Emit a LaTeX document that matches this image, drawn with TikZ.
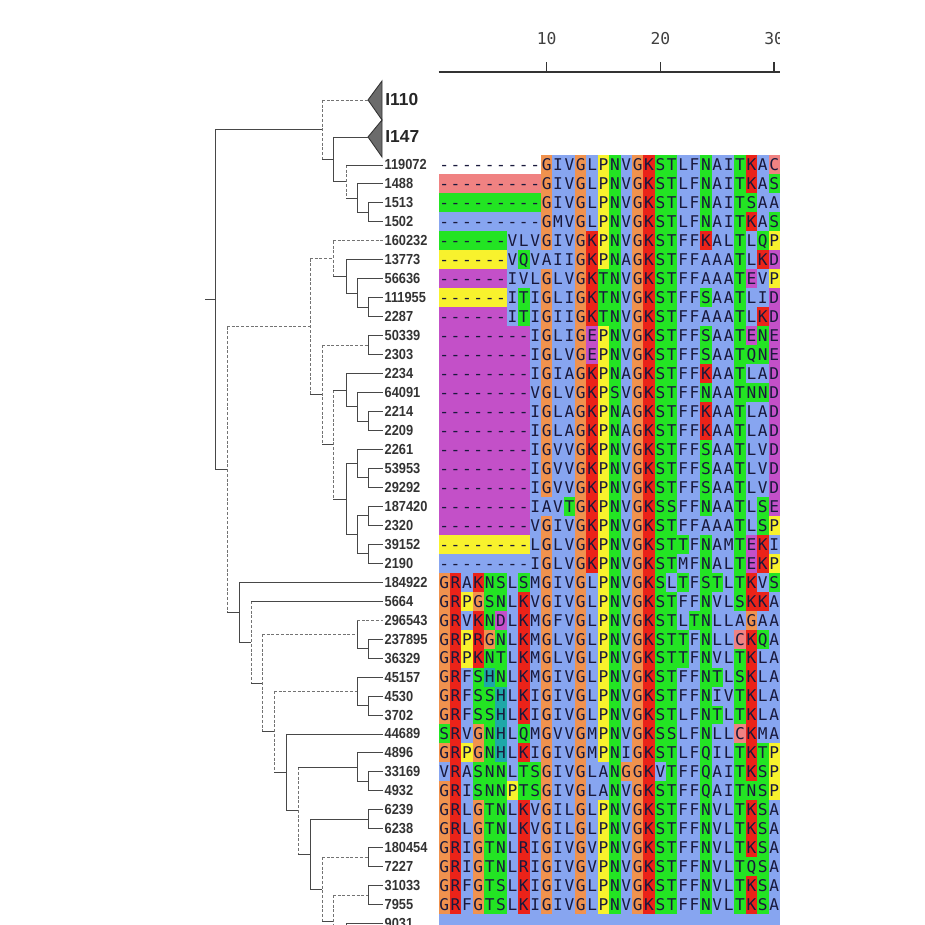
\documentclass[tikz,border=0pt]{standalone}
\usepackage{fontspec}
\setmainfont{Liberation Sans}
\newfontfamily\leaffont[FakeStretch=0.88]{Liberation Sans}
\newfontfamily\alnfont{DejaVu Sans Mono}

\definecolor{alnblue}{RGB}{135,165,240}
\definecolor{alnred}{RGB}{235,35,25}
\definecolor{alngreen}{RGB}{35,228,35}
\definecolor{alnorange}{RGB}{240,146,78}
\definecolor{alnyellow}{RGB}{248,242,45}
\definecolor{alnmagenta}{RGB}{195,80,200}
\definecolor{alnpink}{RGB}{240,130,130}
\definecolor{alncyan}{RGB}{30,168,168}
\definecolor{alntext}{RGB}{25,25,60}
\colorlet{resA}{alnblue}\colorlet{resI}{alnblue}\colorlet{resL}{alnblue}
\colorlet{resM}{alnblue}\colorlet{resF}{alnblue}\colorlet{resV}{alnblue}
\colorlet{resW}{alnblue}\colorlet{resG}{alnorange}\colorlet{resP}{alnyellow}
\colorlet{resK}{alnred}\colorlet{resR}{alnred}\colorlet{resN}{alngreen}
\colorlet{resS}{alngreen}\colorlet{resT}{alngreen}\colorlet{resQ}{alngreen}
\colorlet{resE}{alnmagenta}\colorlet{resD}{alnmagenta}\colorlet{resH}{alncyan}
\colorlet{resY}{alncyan}\colorlet{resC}{alnpink}

\newcount\colk
\newif\ifalntext
% one alignment row: row, gap colour, residues
\newcommand{\alnrow}[3]{\def\alni{#1}\def\gapcol{#2}\colk=0\relax\alnstep#3\relax}
\def\alnstep#1{\ifx#1\relax\else\alncell{#1}\expandafter\alnstep\fi}
\newcommand{\alncell}[1]{%
  \advance\colk by 1
  \ifalntext
    \node[res] at ({438.5+(\the\colk-0.5)*11.38}, \alni) {#1};
  \else
    \ifx#1-\def\cellcol{\gapcol}\else\def\cellcol{res#1}\fi
    \fill[\cellcol] ({438.5+(\the\colk-1)*11.38}, \alni-0.5) rectangle ++(11.5, 1.03);
  \fi}
\newcommand{\alndata}{%
\alnrow{0}{white}{---------GIVGLPNVGKSTLFNAITKAC}
\alnrow{1}{alnpink}{---------GIVGLPNVGKSTLFNAITKAS}
\alnrow{2}{alngreen}{---------GIVGLPNVGKSTLFNAITSAA}
\alnrow{3}{alnblue}{---------GMVGLPNVGKSTLFNAITKAS}
\alnrow{4}{alngreen}{------VLVGIVGKPNVGKSTFFKALTLQP}
\alnrow{5}{alnyellow}{------VQVAIIGKPNAGKSTFFAAATLKD}
\alnrow{6}{alnmagenta}{------IVLGLVGKTNVGKSTFFAAATEVP}
\alnrow{7}{alnyellow}{------ITIGLIGKTNVGKSTFFSAATLID}
\alnrow{8}{alnmagenta}{------ITIGIIGKTNVGKSTFFAAATLKD}
\alnrow{9}{alnmagenta}{--------IGLIGEPNVGKSTFFSAATENE}
\alnrow{10}{alnmagenta}{--------IGLVGEPNVGKSTFFSAATQNE}
\alnrow{11}{alnmagenta}{--------IGIAGKPNAGKSTFFKAATLAD}
\alnrow{12}{alnmagenta}{--------VGLVGKPSVGKSTFFNAATNND}
\alnrow{13}{alnmagenta}{--------IGLAGKPNAGKSTFFKAATLAD}
\alnrow{14}{alnmagenta}{--------IGLAGKPNAGKSTFFKAATLAD}
\alnrow{15}{alnmagenta}{--------IGVVGKPNVGKSTFFSAATLVD}
\alnrow{16}{alnmagenta}{--------IGVVGKPNVGKSTFFSAATLVD}
\alnrow{17}{alnmagenta}{--------IGVVGKPNVGKSTFFSAATLVD}
\alnrow{18}{alnmagenta}{--------IAVTGKPNVGKSSFFNAATLSE}
\alnrow{19}{alnmagenta}{--------VGIVGKPNVGKSTFFAAATLSP}
\alnrow{20}{alnyellow}{--------LGLVGKPNVGKSTTFNAMTEKI}
\alnrow{21}{alnblue}{--------IGLVGKPNVGKSTMFNALTEKP}
\alnrow{22}{white}{GRAKNSLSMGIVGLPNVGKSLTFSTLTKVS}
\alnrow{23}{white}{GRPGSNLKVGIVGLPNVGKSTFFNVLSKKA}
\alnrow{24}{white}{GRVKNDLKMGFVGLPNVGKSTLTNLLAGAA}
\alnrow{25}{white}{GRPRGNLKMGLVGLPNVGKSTTFNLLCKQA}
\alnrow{26}{white}{GRPKNTLKMGLVGLPNVGKSTTFNVLTKLA}
\alnrow{27}{white}{GRFSHNLKMGIVGLPNVGKSTFFNTLSKLA}
\alnrow{28}{white}{GRFSSHLKIGIVGLPNVGKSTFFNIVTKLA}
\alnrow{29}{white}{GRFSSHLKIGIVGLPNVGKSTLFNTLTKLA}
\alnrow{30}{white}{SRVGNHLQMGVVGMPNVGKSSLFNLLCKMA}
\alnrow{31}{white}{GRPGNHLKIGIVGMPNIGKSTLFQILTKTP}
\alnrow{32}{white}{VRASNNLTSGIVGLANGGKVTFFQAITKSP}
\alnrow{33}{white}{GRISNNPTSGIVGLANVGKSTFFQAITNSP}
\alnrow{34}{white}{GRLGTNLKVGILGLPNVGKSTFFNVLTKSA}
\alnrow{35}{white}{GRLGTNLKVGILGLPNVGKSTFFNVLTKSA}
\alnrow{36}{white}{GRIGTNLRIGIVGVPNVGKSTFFNVLTKSA}
\alnrow{37}{white}{GRIGTNLRIGIVGVPNVGKSTFFNVLTQSA}
\alnrow{38}{white}{GRFGTSLKIGIVGLPNVGKSTFFNVLTKSA}
\alnrow{39}{white}{GRFGTSLKIGIVGLPNVGKSTFFNVLTKSA}}

% node, upper child, lower child, styles of vertical / upper / lower branch
\newcommand{\clade}[6]{%
  \draw[#4] (#1 |- #2) -- (#1 |- #3);
  \draw[#5] (#1 |- #2) -- (#2);
  \draw[#6] (#1 |- #3) -- (#3);}

\tikzset{
  brs/.style={draw=black!72, line width=0.5pt},
  brd/.style={draw=black!55, line width=0.5pt, dash pattern=on 1.7pt off 1pt},
  leaf/.style={anchor=west, inner xsep=1pt, inner ysep=0pt,
    font=\leaffont\bfseries\fontsize{8.3}{9}\selectfont, text=black!80},
  clab/.style={anchor=west, inner sep=0pt,
    font=\bfseries\fontsize{9.9}{11}\selectfont, text=black!85},
  tri/.style={fill=black!58, draw=black!80, line width=0.5pt},
  res/.style={inner sep=0pt, text height=6.7pt, text depth=0pt,
    font=\alnfont\fontsize{9.2}{10}\selectfont, text=alntext},
  ruler/.style={draw=black!80, line width=0.85pt},
  rlab/.style={inner sep=0pt, font=\alnfont\fontsize{9.3}{10}\selectfont, text=black!75},
}

\begin{document}
\begin{tikzpicture}[x=0.02cm, y=-0.3794cm]
\useasboundingbox (0,-8.698) rectangle (925,40.063);
\clip (0,-8.698) rectangle (925,40.063);

% leaves
\foreach \lbl [count=\i from 0] in {119072,1488,1513,1502,160232,13773,56636,111955,2287,
  50339,2303,2234,64091,2214,2209,2261,53953,29292,187420,2320,39152,2190,184922,5664,
  296543,237895,36329,45157,4530,3702,44689,4896,33169,4932,6239,6238,180454,7227,31033,
  7955,9031}
  \node[leaf] (l\lbl) at (382.5,\i) {\lbl};

% collapsed groups
\coordinate (i110) at (368,-3.426);
\coordinate (i147) at (368,-1.476);
\filldraw[tri] (i110) -- (382,-4.428) -- (382,-2.372) -- cycle;
\filldraw[tri] (i147) -- (382,-2.372) -- (382,-0.422) -- cycle;
\node[clab] (ni110) at (385,-3.426) {I110};
\node[clab] (ni147) at (385,-1.476) {I147};

% inner nodes
\coordinate (stub) at (205,7.10);
\coordinate (root) at (215,7.10);
\coordinate (t1) at (322,-1.863);
\coordinate (t2) at (333,-0.30);
\coordinate (t3) at (346,0.875);
\coordinate (t4) at (357,1.75);
\coordinate (t5) at (368,2.5);
\coordinate (u1) at (227,16.06);
\coordinate (u2) at (310,8.53);
\coordinate (u3) at (333,4.94);
\coordinate (u4) at (346,5.875);
\coordinate (u5) at (357,6.75);
\coordinate (u6) at (368,7.5);
\coordinate (v1) at (322,12.125);
\coordinate (v2) at (368,9.5);
\coordinate (v3) at (333,14.75);
\coordinate (v4) at (346,11.875);
\coordinate (v5) at (357,12.75);
\coordinate (v6) at (368,13.5);
\coordinate (v7) at (346,17.625);
\coordinate (v8) at (357,15.75);
\coordinate (v9) at (368,16.5);
\coordinate (v10) at (357,19.5);
\coordinate (v11) at (368,18.5);
\coordinate (v12) at (368,20.5);
\coordinate (w1) at (239,23.58);
\coordinate (w2) at (251,25.16);
\coordinate (w3) at (262,27.32);
\coordinate (w4) at (357,24.75);
\coordinate (w5) at (368,25.5);
\coordinate (w6) at (274,29.89);
\coordinate (w7) at (357,27.75);
\coordinate (w8) at (368,28.5);
\coordinate (w9) at (286,32.02);
\coordinate (w10) at (298,34.05);
\coordinate (w11) at (357,31.75);
\coordinate (w12) at (368,32.5);
\coordinate (w13) at (310,36.34);
\coordinate (w14) at (368,34.5);
\coordinate (w15) at (322,38.19);
\coordinate (w16) at (368,36.5);
\coordinate (w17) at (333,39.875);
\coordinate (w18) at (368,38.5);
\coordinate (w19) at (346,41.25);
\coordinate (wx) at (382.5,42.5);

\draw[brs] (stub) -- (root);
\clade{root}{t1}{u1}{brs}{brs}{brs}
\clade{t1}{i110}{t2}{brd}{brd}{brs}
\clade{t2}{i147}{t3}{brs}{brs}{brs}
\clade{t3}{l119072.west}{t4}{brd}{brs}{brs}
\clade{t4}{l1488.west}{t5}{brs}{brs}{brs}
\clade{t5}{l1513.west}{l1502.west}{brs}{brs}{brs}
\clade{u1}{u2}{w1}{brd}{brd}{brs}
\clade{u2}{u3}{v1}{brd}{brd}{brs}
\clade{u3}{l160232.west}{u4}{brd}{brd}{brs}
\clade{u4}{l13773.west}{u5}{brs}{brs}{brs}
\clade{u5}{l56636.west}{u6}{brs}{brs}{brs}
\clade{u6}{l111955.west}{l2287.west}{brs}{brs}{brs}
\clade{v1}{v2}{v3}{brd}{brd}{brs}
\clade{v2}{l50339.west}{l2303.west}{brs}{brs}{brs}
\clade{v3}{v4}{v7}{brd}{brs}{brs}
\clade{v4}{l2234.west}{v5}{brs}{brs}{brs}
\clade{v5}{l64091.west}{v6}{brs}{brs}{brs}
\clade{v6}{l2214.west}{l2209.west}{brs}{brs}{brs}
\clade{v7}{v8}{v10}{brs}{brs}{brs}
\clade{v8}{l2261.west}{v9}{brs}{brs}{brs}
\clade{v9}{l53953.west}{l29292.west}{brs}{brs}{brs}
\clade{v10}{v11}{v12}{brs}{brs}{brs}
\clade{v11}{l187420.west}{l2320.west}{brs}{brs}{brs}
\clade{v12}{l39152.west}{l2190.west}{brs}{brs}{brs}
\clade{w1}{l184922.west}{w2}{brs}{brs}{brs}
\clade{w2}{l5664.west}{w3}{brd}{brs}{brs}
\clade{w3}{w4}{w6}{brd}{brd}{brs}
\clade{w4}{l296543.west}{w5}{brs}{brd}{brs}
\clade{w5}{l237895.west}{l36329.west}{brs}{brs}{brs}
\clade{w6}{w7}{w9}{brd}{brd}{brs}
\clade{w7}{l45157.west}{w8}{brs}{brs}{brs}
\clade{w8}{l4530.west}{l3702.west}{brs}{brs}{brs}
\clade{w9}{l44689.west}{w10}{brs}{brs}{brs}
\clade{w10}{w11}{w13}{brd}{brs}{brs}
\clade{w11}{l4896.west}{w12}{brs}{brs}{brs}
\clade{w12}{l33169.west}{l4932.west}{brs}{brs}{brs}
\clade{w13}{w14}{w15}{brs}{brs}{brs}
\clade{w14}{l6239.west}{l6238.west}{brs}{brs}{brs}
\clade{w15}{w16}{w17}{brd}{brd}{brs}
\clade{w16}{l180454.west}{l7227.west}{brs}{brs}{brs}
\clade{w17}{w18}{w19}{brd}{brd}{brs}
\clade{w18}{l31033.west}{l7955.west}{brs}{brs}{brs}
\clade{w19}{l9031.west}{wx}{brs}{brs}{brs}

% alignment and ruler
\begin{scope}
\clip (0,-8.698) rectangle (779.9,40.063);
\draw[ruler] (438.5,-4.902) -- (780,-4.902);
\foreach \t in {10,20,30}{
  \coordinate (tk\t) at ({438.5+(\t-0.5)*11.38},-4.902);
  \draw[ruler] (tk\t) -- ++(0,-0.53);
  \node[rlab] (rl\t) at ({438.5+(\t-0.5)*11.38},-6.642) {\t};
}
\alntextfalse\alndata
\fill[alnblue] (438.5,39.5) rectangle (779.9,40.6);
\alntexttrue\alndata
\end{scope}
\end{tikzpicture}
\end{document}
